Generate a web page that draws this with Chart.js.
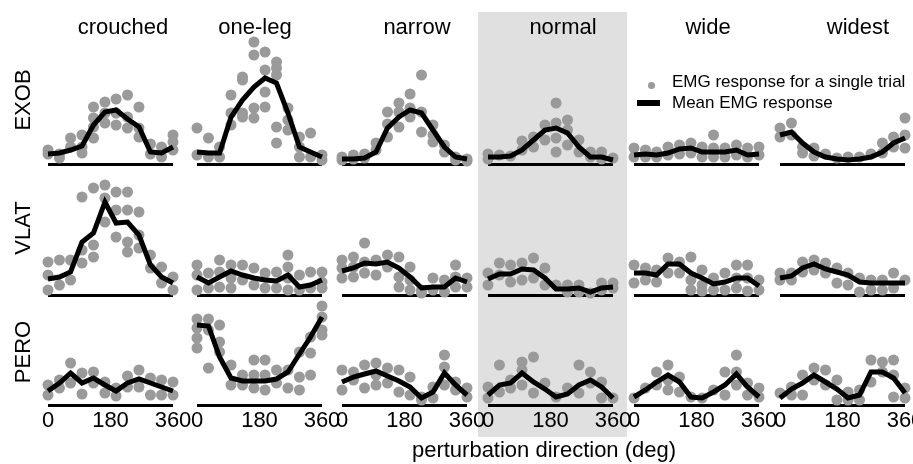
<!DOCTYPE html>
<html>
<head>
<meta charset="utf-8">
<script src="https://cdn.jsdelivr.net/npm/chart.js@4.4.1/dist/chart.umd.min.js"></script>
<style>
  html, body { margin: 0; padding: 0; }
  body {
    width: 913px; height: 464px; position: relative; overflow: hidden;
    background: #fff; font-family: "Liberation Sans", Arial, Helvetica, sans-serif; color: #000;
  }
  .txt { position: absolute; white-space: nowrap; font-size: 22px; line-height: 22px; }
  .title { transform: translateX(-50%); }
  .rowlab { width: 100px; height: 22px; text-align: center; transform: rotate(-90deg); }
  .legtxt { position: absolute; white-space: nowrap; font-size: 17px; line-height: 17px; }
  #shade { position: absolute; left: 478px; top: 12px; width: 149px; height: 425px; background: #e0e0e0; }
  canvas { position: absolute; }
</style>
</head>
<body>
<div id="shade"></div>
<div id="root"></div>
<script>
// Perturbation directions (deg), 12 equally spaced over 0-360
const directions = [0, 33, 65, 98, 131, 164, 196, 229, 262, 295, 327, 360];
const conditions = ['crouched', 'one-leg', 'narrow', 'normal', 'wide', 'widest'];
const muscles = ['EXOB', 'VLAT', 'PERO'];
const tickValues = [0, 180, 360];

// Mean EMG response per condition (rows) and direction (columns)
const exobMean = [
  [0.10, 0.11, 0.14, 0.18, 0.39, 0.52, 0.54, 0.45, 0.37, 0.12, 0.11, 0.17],
  [0.12, 0.11, 0.11, 0.47, 0.64, 0.77, 0.86, 0.81, 0.51, 0.17, 0.12, 0.07],
  [0.05, 0.05, 0.06, 0.12, 0.36, 0.47, 0.54, 0.51, 0.34, 0.17, 0.07, 0.05],
  [0.07, 0.07, 0.08, 0.14, 0.24, 0.34, 0.36, 0.31, 0.17, 0.07, 0.07, 0.04],
  [0.09, 0.10, 0.09, 0.11, 0.15, 0.16, 0.12, 0.12, 0.12, 0.14, 0.09, 0.10],
  [0.29, 0.32, 0.21, 0.12, 0.07, 0.05, 0.04, 0.05, 0.07, 0.12, 0.21, 0.26]
];
const vlatMean = [
  [0.16, 0.18, 0.23, 0.53, 0.62, 0.93, 0.72, 0.73, 0.60, 0.30, 0.18, 0.12],
  [0.18, 0.12, 0.18, 0.24, 0.20, 0.17, 0.15, 0.14, 0.20, 0.08, 0.10, 0.15],
  [0.24, 0.27, 0.32, 0.31, 0.33, 0.27, 0.18, 0.07, 0.08, 0.08, 0.17, 0.13],
  [0.16, 0.21, 0.21, 0.26, 0.25, 0.17, 0.06, 0.06, 0.07, 0.03, 0.07, 0.08],
  [0.22, 0.22, 0.20, 0.31, 0.31, 0.22, 0.17, 0.11, 0.13, 0.17, 0.17, 0.09],
  [0.17, 0.19, 0.27, 0.31, 0.26, 0.23, 0.20, 0.13, 0.12, 0.12, 0.12, 0.12]
];
const peroMean = [
  [0.14, 0.22, 0.32, 0.22, 0.27, 0.20, 0.14, 0.22, 0.26, 0.22, 0.18, 0.14],
  [0.80, 0.79, 0.48, 0.27, 0.24, 0.24, 0.24, 0.26, 0.33, 0.51, 0.68, 0.88],
  [0.23, 0.28, 0.31, 0.34, 0.29, 0.24, 0.18, 0.07, 0.13, 0.32, 0.20, 0.10],
  [0.10, 0.20, 0.22, 0.32, 0.23, 0.16, 0.08, 0.11, 0.20, 0.25, 0.18, 0.07],
  [0.08, 0.15, 0.23, 0.30, 0.23, 0.08, 0.07, 0.13, 0.20, 0.31, 0.18, 0.08],
  [0.07, 0.16, 0.22, 0.30, 0.23, 0.16, 0.07, 0.10, 0.33, 0.33, 0.27, 0.12]
];

// Single-trial EMG responses: [condition][direction] -> trials
const exobTrials = [
  [[0.14,0.10],[0.10,0.06],[0.26,0.17],[0.29,0.17,0.11],[0.57,0.46,0.37,0.26],[0.62,0.51,0.41],
   [0.65,0.51,0.39],[0.69,0.47,0.36],[0.57,0.36,0.27],[0.20,0.10],[0.17,0.07],[0.29,0.22,0.14]],
  [[0.36,0.09],[0.26,0.07],[0.17,0.07],[0.69,0.51,0.39],[0.87,0.84,0.51,0.47],[1.22,1.09,0.56,0.46],
   [1.12,0.94,0.72,0.57],[1.02,0.96,0.89,0.37,0.21],[0.56,0.44,0.34],[0.27,0.17,0.07],[0.31,0.07],[0.09,0.04]],
  [[0.07,0.04],[0.09,0.05],[0.10,0.06],[0.21,0.14],[0.52,0.40,0.27],[0.61,0.52,0.37],
   [0.70,0.56,0.47],[0.89,0.52,0.32],[0.39,0.29,0.22],[0.19,0.12],[0.07,0.04],[0.05,0.03]],
  [[0.10,0.05],[0.09],[0.08],[0.23,0.14],[0.27,0.17],[0.39,0.24],
   [0.61,0.41,0.26,0.12],[0.44,0.34,0.19],[0.24,0.12],[0.12,0.07],[0.12,0.05],[0.06]],
  [[0.16,0.07],[0.14,0.07],[0.12,0.07],[0.17,0.09],[0.19,0.10],[0.21,0.11],
   [0.17,0.07],[0.29,0.16,0.07],[0.16,0.07],[0.19,0.09],[0.16,0.07],[0.17,0.09]],
  [[0.36,0.27],[0.41,0.29],[0.17,0.11],[0.16,0.08],[0.10],[0.06],
   [0.07],[0.07],[0.10],[0.21,0.11],[0.27,0.17],[0.46,0.29,0.16]]
];
const vlatTrials = [
  [[0.33,0.20,0.05],[0.35,0.10],[0.35,0.15],[0.98,0.45,0.32],[1.07,0.50,0.38],[1.10,0.97,0.73],
   [1.03,0.85,0.58],[1.03,0.85,0.53,0.43],[0.83,0.60,0.47],[0.40,0.27],[0.28,0.12],[0.18,0.05]],
  [[0.30,0.20,0.05],[0.22,0.07],[0.35,0.23,0.08],[0.30,0.17,0.07],[0.30,0.15],[0.27,0.10],
   [0.22,0.07],[0.23,0.07],[0.40,0.28,0.17,0.05],[0.20,0.05],[0.23,0.07],[0.23,0.13,0.07]],
  [[0.35,0.27,0.17],[0.38,0.28,0.18],[0.52,0.33,0.22],[0.35,0.20],[0.40,0.28],[0.38,0.18,0.08],
   [0.28,0.15,0.05],[0.05,0.02],[0.17,0.05],[0.15,0.03],[0.30,0.18,0.08],[0.17,0.08]],
  [[0.22,0.10],[0.32,0.20],[0.30,0.13],[0.32,0.15],[0.37,0.17],[0.27,0.10],
   [0.10],[0.10,0.03],[0.10,0.03],[0.02],[0.12,0.05],[0.12,0.07]],
  [[0.30,0.12],[0.27,0.15],[0.25,0.13],[0.37,0.22],[0.33,0.22],[0.38,0.15,0.05],
   [0.25,0.10,0.04],[0.17,0.05],[0.22,0.05],[0.30,0.17,0.07],[0.30,0.17,0.04],[0.15,0.05]],
  [[0.22,0.15],[0.22,0.15],[0.33,0.23],[0.35,0.25],[0.32,0.22],[0.27,0.12],
   [0.22,0.10],[0.17,0.03],[0.15,0.05],[0.15,0.05],[0.22,0.07],[0.15]]
];
const peroTrials = [
  [[0.20,0.10],[0.25,0.17],[0.42,0.22],[0.32,0.11],[0.33,0.22],[0.23,0.12],
   [0.17,0.09],[0.29,0.18],[0.35,0.18],[0.27,0.10],[0.25,0.10],[0.23,0.10]],
  [[0.86,0.77,0.67,0.57],[0.86,0.75,0.37],[0.80,0.63,0.53],[0.40,0.20],[0.30,0.20],[0.45,0.30,0.17],
   [0.45,0.30,0.15],[0.35,0.22],[0.35,0.17],[0.53,0.28,0.15],[0.68,0.52,0.30],[0.99,0.88,0.75,0.70]],
  [[0.35,0.15],[0.33,0.25],[0.40,0.17],[0.42,0.30,0.20],[0.37,0.22],[0.35,0.13],
   [0.28,0.10],[0.08,0.05],[0.18,0.07],[0.50,0.38,0.20],[0.23,0.15],[0.17,0.08]],
  [[0.18,0.07],[0.40,0.13],[0.25,0.17],[0.43,0.35,0.20],[0.48,0.12],[0.22],
   [0.08],[0.17],[0.40,0.12],[0.33,0.22],[0.23,0.07],[0.07]],
  [[0.07],[0.17],[0.33,0.20],[0.40,0.25,0.15],[0.28,0.13],[0.08],
   [0.07],[0.15],[0.33,0.10],[0.50,0.33,0.20],[0.22,0.10],[0.17,0.08]],
  [[0.12],[0.18,0.10],[0.30,0.10],[0.37,0.25],[0.35,0.20],[0.25,0.05],
   [0.13,0.05],[0.15,0.05],[0.45,0.23],[0.43,0.33],[0.45,0.30,0.08],[0.17,0.07]]
];

const meansByMuscle = [exobMean, vlatMean, peroMean];
const trialsByMuscle = [exobTrials, vlatTrials, peroTrials];

// Layout of the small-multiple grid
const panelLeft = [48, 197, 342, 488, 634, 780];
const panelWidth = 125;
const rowBaseline = [164, 295, 405];
const yMax = 1.25;
const pxPerUnit = 100;
const pad = { left: 16, right: 22, top: 10, bottom: 34 };
const FONT = '"Liberation Sans", Arial, Helvetica, sans-serif';

const root = document.getElementById('root');

// zero line under every panel, and direction tick labels under the bottom row
const baselinePlugin = {
  id: 'baseline',
  beforeDatasetsDraw(chart, args, opts) {
    const { ctx, scales: { x, y } } = chart;
    ctx.save();
    ctx.strokeStyle = '#000';
    ctx.lineWidth = 3;
    ctx.lineCap = 'butt';
    ctx.beginPath();
    const yy = y.getPixelForValue(0) + 0.5;
    ctx.moveTo(x.getPixelForValue(0), yy);
    ctx.lineTo(x.getPixelForValue(360), yy);
    ctx.stroke();
    ctx.restore();
  },
  afterDraw(chart, args, opts) {
    if (!opts.ticks) return;
    const { ctx, scales: { x, y } } = chart;
    ctx.save();
    ctx.fillStyle = '#000';
    ctx.font = '22px ' + FONT;
    ctx.textAlign = 'center';
    ctx.textBaseline = 'alphabetic';
    const yy = y.getPixelForValue(0) + 22;
    tickValues.forEach(v => ctx.fillText(String(v), x.getPixelForValue(v), yy));
    ctx.restore();
  }
};

muscles.forEach((muscle, r) => {
  conditions.forEach((cond, c) => {
    const cv = document.createElement('canvas');
    const w = panelWidth + pad.left + pad.right;
    const h = yMax * pxPerUnit + pad.top + pad.bottom;
    cv.width = w; cv.height = h;
    cv.style.left = (panelLeft[c] - pad.left) + 'px';
    cv.style.top = (rowBaseline[r] - yMax * pxPerUnit - pad.top) + 'px';
    root.appendChild(cv);

    const trials = trialsByMuscle[r][c];
    const pts = [];
    trials.forEach((vals, k) => vals.forEach(v => pts.push({ x: directions[k], y: v })));
    const mean = meansByMuscle[r][c].map((v, k) => ({ x: directions[k], y: v }));

    new Chart(cv, {
      type: 'scatter',
      data: {
        datasets: [
          {
            label: 'EMG response for a single trial',
            data: pts,
            pointRadius: 5.5,
            pointBackgroundColor: '#9a9a9a',
            pointBorderWidth: 0,
            showLine: false,
            clip: false,
            order: 2
          },
          {
            label: 'Mean EMG response',
            type: 'line',
            data: mean,
            borderColor: '#000',
            borderWidth: 5,
            borderJoinStyle: 'miter',
            pointRadius: 0,
            tension: 0,
            fill: false,
            clip: false,
            order: 1
          }
        ]
      },
      options: {
        responsive: false,
        animation: false,
        events: [],
        layout: { padding: pad },
        scales: {
          x: { type: 'linear', min: 0, max: 360, display: false },
          y: { type: 'linear', min: 0, max: yMax, display: false }
        },
        plugins: {
          legend: { display: false },
          tooltip: { enabled: false },
          baseline: { ticks: r === muscles.length - 1 }
        }
      },
      plugins: [baselinePlugin]
    });
  });
});

// Text: column titles, row labels, axis label, legend
function addText(cls, text, left, top, extra) {
  const d = document.createElement('div');
  d.className = cls;
  d.textContent = text;
  d.style.left = left + 'px';
  d.style.top = top + 'px';
  if (extra) Object.assign(d.style, extra);
  document.body.appendChild(d);
  return d;
}
const titleCenters = [123, 255, 417, 563, 708, 858];
conditions.forEach((cond, c) => addText('txt title', cond, titleCenters[c], 16));
const rowCenters = [100, 228, 352];
muscles.forEach((m, r) => addText('txt rowlab', m, 23 - 50, rowCenters[r] - 11));
addText('txt title', 'perturbation direction (deg)', 544, 439);

// legend
const dot = document.createElement('div');
Object.assign(dot.style, { position: 'absolute', left: '648px', top: '81.5px', width: '7px', height: '7px',
  borderRadius: '50%', background: '#9a9a9a' });
document.body.appendChild(dot);
const bar = document.createElement('div');
Object.assign(bar.style, { position: 'absolute', left: '637px', top: '100px', width: '23px', height: '5.5px', background: '#000' });
document.body.appendChild(bar);
addText('legtxt', 'EMG response for a single trial', 672, 73);
addText('legtxt', 'Mean EMG response', 672, 94);
</script>
</body>
</html>
